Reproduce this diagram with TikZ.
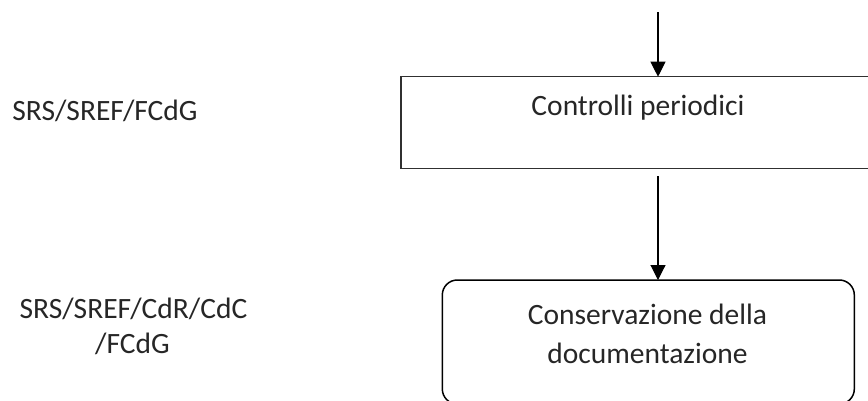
\documentclass[tikz,border=0pt]{standalone}
\usepackage{fontspec}
\setmainfont{Carlito}
\usetikzlibrary{arrows.meta}
\definecolor{ink}{HTML}{262626}
\definecolor{edge}{HTML}{303030}
\begin{document}
\begin{tikzpicture}[x=1bp,y=-1bp,
  every node/.style={inner sep=0pt, outer sep=0pt},
  lbl/.style={anchor=base, text=ink, font=\fontsize{29.5bp}{36bp}\selectfont},
  plainbox/.style={draw=edge, line width=1.4bp, rectangle},
  roundbox/.style={draw=black, line width=1.5bp, rectangle, rounded corners=15bp},
  flow/.style={draw=black, line width=1.1bp, -{Triangle[width=15bp,length=15bp]}}]
  \useasboundingbox (0,0) rectangle (868,400);

  % process box and its caption
  \node[plainbox, minimum width=475bp, minimum height=91.6bp] (ctrl) at (638.5,122.5) {};
  \node[lbl] (ctrltxt) at (638,115) {Controlli periodici};

  % terminal box (rounded) and its caption
  \node[roundbox, minimum width=412bp, minimum height=124bp] (cons) at (648.3,342) {};
  \node[lbl] (constxt1) at (647.5,324) {Conservazione della};
  \node[lbl] (constxt2) at (647.5,363) {documentazione};

  % responsibility labels on the left
  \node[lbl] (resp1) at (105,120) {SRS/SREF/FCdG};
  \node[lbl] (resp2a) at (133.5,318) {SRS/SREF/CdR/CdC};
  \node[lbl] (resp2b) at (132.5,353) {/FCdG};

  % connectors
  \coordinate (in) at (658,12);
  \coordinate (out) at (658,176);
  \draw[flow] (in) -- (in |- ctrl.north);
  \draw[flow] (out) -- (out |- cons.north);
\end{tikzpicture}
\end{document}
